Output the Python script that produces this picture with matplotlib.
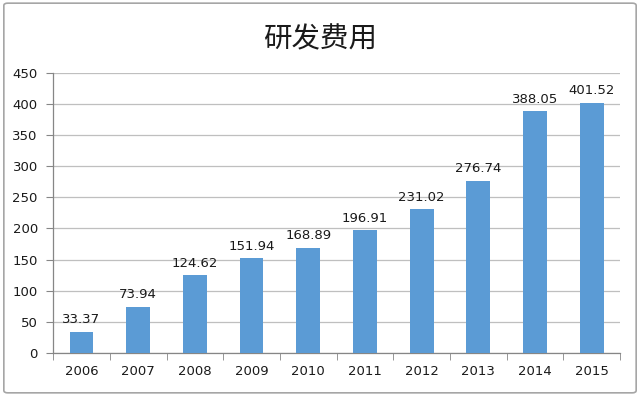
import matplotlib
matplotlib.use("Agg")
import matplotlib.pyplot as plt
from matplotlib.patches import FancyBboxPatch
import numpy as np

plt.rcParams['font.family'] = ['Noto Sans CJK SC', 'DejaVu Sans']

years = ["2006", "2007", "2008", "2009", "2010", "2011", "2012", "2013", "2014", "2015"]
values = [33.37, 73.94, 124.62, 151.94, 168.89, 196.91, 231.02, 276.74, 388.05, 401.52]
title = "研发费用"
yticks = [0, 50, 100, 150, 200, 250, 300, 350, 400, 450]

fig = plt.figure(figsize=(6.4, 3.96), dpi=100)
fig.patch.set_facecolor("white")
border = FancyBboxPatch((0.006, 0.008), 0.988, 0.984, boxstyle="round,pad=0,rounding_size=0.006",
                        transform=fig.transFigure, fill=False, edgecolor="#a6a6a6", linewidth=1.2)
fig.patches.append(border)

ax = fig.add_axes([0.083, 0.109, 0.886, 0.707])
x = np.arange(len(years))
bars = ax.bar(x, values, width=0.42, color="#5b9bd5", zorder=3)
for xi, v in zip(x, values):
    ax.text(xi, v + 9, f"{v:.2f}", ha="center", va="bottom", fontsize=9.5,
            family=['DejaVu Sans'], color="#1a1a1a", zorder=4)

ax.set_xlim(-0.5, len(years) - 0.5)
ax.set_ylim(0, 450)
ax.set_yticks(yticks)
ax.set_yticklabels([str(t) for t in yticks], fontsize=9.5, family=['DejaVu Sans'], color="#1a1a1a")
ax.yaxis.grid(True, color="#bfbfbf", linewidth=0.9, zorder=0)
ax.set_xticks(x)
ax.set_xticklabels(years, fontsize=9.5, family=['DejaVu Sans'], color="#1a1a1a")
ax.set_xticks(np.arange(-0.5, len(years), 1.0), minor=True)
ax.tick_params(axis="x", which="major", length=0, pad=9)
ax.tick_params(axis="x", which="minor", length=5, color="#868686")
ax.tick_params(axis="y", length=5, color="#868686", pad=6)
for s in ["top", "right"]:
    ax.spines[s].set_visible(False)
for s in ["left", "bottom"]:
    ax.spines[s].set_color("#868686")
    ax.spines[s].set_linewidth(0.9)

fig.text(0.5, 0.9, title, ha="center", va="center", fontsize=20.5, color="#1a1a1a")

fig.savefig("out.png", dpi=100)
